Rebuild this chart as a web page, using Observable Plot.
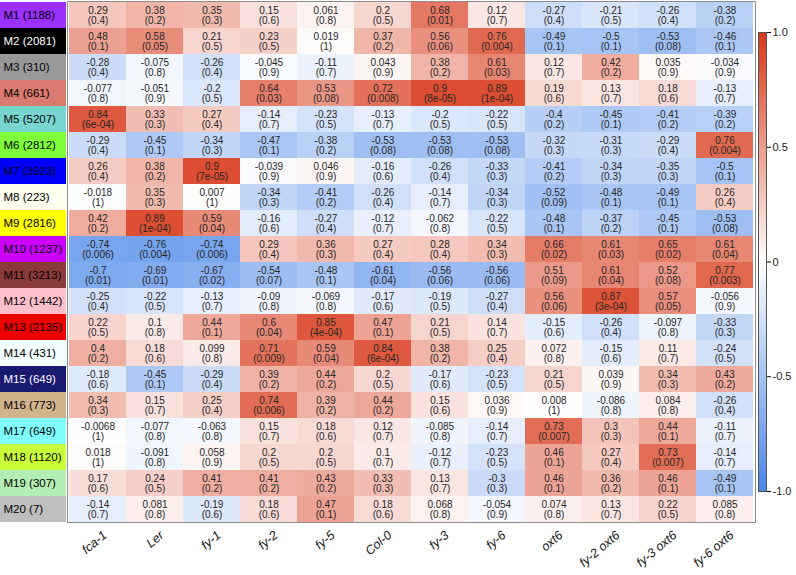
<!DOCTYPE html>
<html>
<head>
<meta charset="utf-8">
<script src="https://cdn.jsdelivr.net/npm/d3@7"></script>
<script src="https://cdn.jsdelivr.net/npm/@observablehq/plot@0.6"></script>
<style>
  body { margin: 0; background: #fff; }
  #wrap { position: relative; width: 796px; height: 575px; overflow: hidden; }
  #wrap > svg, #wrap > figure { position: absolute; top: 0; margin: 0; }
  #main g[aria-label="x-axis tick label"] text { font-style: italic; }
</style>
</head>
<body>
<div id="wrap"></div>
<script>
const modules = ["M1","M2","M3","M4","M5","M6","M7","M8","M9","M10","M11","M12","M13","M14","M15","M16","M17","M18","M19","M20"];
const moduleSizes = [1188,2081,310,661,5207,2812,3923,223,2816,1237,3213,1442,2135,431,649,773,649,1120,307,7];
const moduleColors = ["#9B30FF","#000000","#999999","#DB7A6E","#78D6CE","#7FFF3A","#0000FF","#FFFFF0","#FFFF00","#CC00FF","#8B3A3A","#FFC0CB","#EE0000","#F4FFFF","#191970","#D2B48C","#80FFFF","#C8FF3A","#B4EEB4","#BEBEBE"];
const moduleTextColors = ["#000","#fff","#000","#000","#000","#000","#000","#000","#000","#000","#000","#000","#000","#000","#fff","#000","#000","#000","#000","#000"];
const genotypes = ["fca-1","Ler","fy-1","fy-2","fy-5","Col-0","fy-3","fy-6","oxt6","fy-2 oxt6","fy-3 oxt6","fy-6 oxt6"];

// correlation per module (rows) x genotype (columns)
const rVals = [
  [0.29,0.38,0.35,0.15,0.061,0.2,0.68,0.12,-0.27,-0.21,-0.26,-0.38],
  [0.48,0.58,0.21,0.23,0.019,0.37,0.56,0.76,-0.49,-0.5,-0.53,-0.46],
  [-0.28,-0.075,-0.26,-0.045,-0.11,0.043,0.38,0.61,0.12,0.42,0.035,-0.034],
  [-0.077,-0.051,-0.2,0.64,0.53,0.72,0.9,0.89,0.19,0.13,0.18,-0.13],
  [0.84,0.33,0.27,-0.14,-0.23,-0.13,-0.2,-0.22,-0.4,-0.45,-0.41,-0.39],
  [-0.29,-0.45,-0.34,-0.47,-0.38,-0.53,-0.53,-0.53,-0.32,-0.31,-0.29,0.76],
  [0.26,0.38,0.9,-0.039,0.046,-0.16,-0.26,-0.33,-0.41,-0.34,-0.35,-0.5],
  [-0.018,0.35,0.007,-0.34,-0.41,-0.26,-0.14,-0.34,-0.52,-0.48,-0.49,0.26],
  [0.42,0.89,0.59,-0.16,-0.27,-0.12,-0.062,-0.22,-0.48,-0.37,-0.45,-0.53],
  [-0.74,-0.76,-0.74,0.29,0.36,0.27,0.28,0.34,0.66,0.61,0.65,0.61],
  [-0.7,-0.69,-0.67,-0.54,-0.48,-0.61,-0.56,-0.56,0.51,0.61,0.52,0.77],
  [-0.25,-0.22,-0.13,-0.09,-0.069,-0.17,-0.19,-0.27,0.56,0.87,0.57,-0.056],
  [0.22,0.1,0.44,0.6,0.85,0.47,0.21,0.14,-0.15,-0.26,-0.097,-0.33],
  [0.4,0.18,0.099,0.71,0.59,0.84,0.38,0.25,0.072,-0.15,0.11,-0.24],
  [-0.18,-0.45,-0.29,0.39,0.44,0.2,-0.17,-0.23,0.21,0.039,0.34,0.43],
  [0.34,0.15,0.25,0.74,0.39,0.44,0.15,0.036,0.008,-0.086,0.084,-0.26],
  [-0.0068,-0.077,-0.063,0.15,0.18,0.12,-0.085,-0.14,0.73,0.3,0.44,-0.11],
  [0.018,-0.091,0.058,0.2,0.2,0.1,-0.12,-0.23,0.46,0.27,0.73,-0.14],
  [0.17,0.24,0.41,0.41,0.43,0.33,0.13,-0.3,0.46,0.36,0.46,-0.49],
  [-0.14,0.081,-0.19,0.18,0.47,0.18,0.068,-0.054,0.074,0.13,0.22,0.085]
];
// p-values as printed
const pVals = [
  ["0.4","0.2","0.3","0.6","0.8","0.5","0.01","0.7","0.4","0.5","0.4","0.2"],
  ["0.1","0.05","0.5","0.5","1","0.2","0.06","0.004","0.1","0.1","0.08","0.1"],
  ["0.4","0.8","0.4","0.9","0.7","0.9","0.2","0.03","0.7","0.2","0.9","0.9"],
  ["0.8","0.9","0.5","0.03","0.08","0.008","8e-05","1e-04","0.6","0.7","0.6","0.7"],
  ["6e-04","0.3","0.4","0.7","0.5","0.7","0.5","0.5","0.2","0.1","0.2","0.2"],
  ["0.4","0.1","0.3","0.1","0.2","0.08","0.08","0.08","0.3","0.3","0.4","0.004"],
  ["0.4","0.2","7e-05","0.9","0.9","0.6","0.4","0.3","0.2","0.3","0.3","0.1"],
  ["1","0.3","1","0.3","0.2","0.4","0.7","0.3","0.09","0.1","0.1","0.4"],
  ["0.2","1e-04","0.04","0.6","0.4","0.7","0.8","0.5","0.1","0.2","0.1","0.08"],
  ["0.006","0.004","0.006","0.4","0.3","0.4","0.4","0.3","0.02","0.03","0.02","0.04"],
  ["0.01","0.01","0.02","0.07","0.1","0.04","0.06","0.06","0.09","0.04","0.08","0.003"],
  ["0.4","0.5","0.7","0.8","0.8","0.6","0.5","0.4","0.06","3e-04","0.05","0.9"],
  ["0.5","0.8","0.1","0.04","4e-04","0.1","0.5","0.7","0.6","0.4","0.8","0.3"],
  ["0.2","0.6","0.8","0.009","0.04","6e-04","0.2","0.4","0.8","0.6","0.7","0.5"],
  ["0.6","0.1","0.4","0.2","0.2","0.5","0.6","0.5","0.5","0.9","0.3","0.2"],
  ["0.3","0.7","0.4","0.006","0.2","0.2","0.6","0.9","1","0.8","0.8","0.4"],
  ["1","0.8","0.8","0.7","0.6","0.7","0.8","0.7","0.007","0.3","0.1","0.7"],
  ["1","0.8","0.9","0.5","0.5","0.7","0.7","0.5","0.1","0.4","0.007","0.7"],
  ["0.6","0.5","0.2","0.2","0.2","0.3","0.7","0.3","0.1","0.2","0.1","0.1"],
  ["0.7","0.8","0.6","0.6","0.1","0.6","0.8","0.9","0.8","0.7","0.5","0.8"]
];
const legendTicks = [-1, -0.5, 0, 0.5, 1];

const cells = [];
modules.forEach((m, i) => genotypes.forEach((g, j) =>
  cells.push({module: m, genotype: g, r: rVals[i][j], p: pVals[i][j]})));
const labels = modules.map((m, i) => ({module: m, label: `${m} (${moduleSizes[i]})`, color: moduleColors[i], tcolor: moduleTextColors[i]}));

const colorScale = {type: "linear", domain: [-1, 0, 1], range: ["#4A86E8", "#FFFFFF", "#D8391A"], interpolate: "rgb"};
const font = "'Liberation Sans', Arial, Helvetica, sans-serif";
const H = 575, MB = 53, MT = 1;

const main = Plot.plot({
  width: 796, height: H,
  marginLeft: 67, marginRight: 41, marginTop: MT, marginBottom: MB,
  style: {fontFamily: font, background: "transparent"},
  x: {domain: genotypes, padding: 0, label: null},
  y: {domain: modules, padding: 0, axis: null, label: null},
  color: colorScale,
  marks: [
    Plot.cell(cells, {x: "genotype", y: "module", fill: "r"}),
    Plot.text(cells, {x: "genotype", y: "module", text: d => `${d.r}\n(${d.p})`, fontSize: 10, lineHeight: 1.08, fill: "#262626"}),
    Plot.frame({stroke: "#8c8c8c", strokeWidth: 1}),
    Plot.axisX({tickSize: 0, tickPadding: 11, tickRotate: -40, dx: 7, fontSize: 12.5, fontStyle: "italic", fill: "#111", label: null})
  ]
});
main.id = "main";
main.style.left = "0px";

const side = Plot.plot({
  width: 68, height: H,
  marginLeft: 0, marginRight: 2, marginTop: MT, marginBottom: MB,
  style: {fontFamily: font, background: "transparent"},
  y: {domain: modules, padding: 0, axis: null, label: null},
  marks: [
    Plot.cell(labels, {y: "module", fill: "color"}),
    Plot.text(labels, {y: "module", text: "label", frameAnchor: "left", textAnchor: "start", dx: 3, fontSize: 11.5, fill: "tcolor"})
  ]
});
side.style.left = "0px";

const bar = Plot.plot({
  width: 56, height: H,
  marginLeft: 18, marginRight: 30, marginTop: 32, marginBottom: 84,
  style: {fontFamily: font, background: "transparent"},
  x: {domain: [0, 1], axis: null},
  y: {domain: [-1, 1], axis: null},
  color: colorScale,
  marks: [
    Plot.raster({x1: 0, x2: 1, y1: -1, y2: 1, width: 2, height: 300, fill: (x, y) => y, imageRendering: "auto"}),
    Plot.frame({stroke: "#555"}),
    Plot.axisY({anchor: "right", ticks: legendTicks, tickSize: 4, tickPadding: 2, fontSize: 11, fill: "#222", label: null,
      tickFormat: d => d === 0 ? "0" : d3.format(".1f")(d).replace("−", "-")})
  ]
});
bar.style.left = "740px";

const wrap = document.getElementById("wrap");
wrap.append(main, side, bar);
</script>
</body>
</html>
